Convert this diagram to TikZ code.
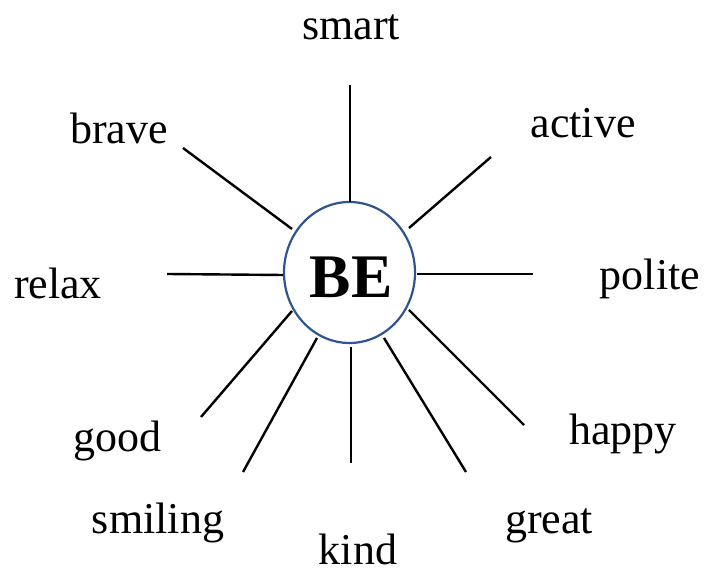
\documentclass[tikz,border=0pt]{standalone}
\usepackage{fontspec}
\setmainfont{Liberation Serif}
\usetikzlibrary{shapes.geometric}
\definecolor{ringblue}{HTML}{2F5590}
\tikzset{
  word/.style={anchor=base, inner sep=0pt, font=\fontsize{44}{48}\selectfont},
  spoke/.style={draw=black, line width=2.4pt},
  hub/.style={draw=ringblue, line width=2.2pt, ellipse, minimum width=131pt, minimum height=141pt, inner sep=0pt}
}
\begin{document}
\begin{tikzpicture}[x=1pt,y=1pt]
\useasboundingbox (0,0) rectangle (704,575);
\node[hub] (be) at (349.5,302.5) {};
\node[anchor=base, inner sep=0pt, font=\fontsize{62}{66}\selectfont\bfseries] (betext) at (351,277) {BE};
% spoke ends
\coordinate (smart-in) at (350,373);   \coordinate (smart-out) at (350,490);
\coordinate (brave-in) at (292,346);   \coordinate (brave-out) at (183,427);
\coordinate (active-in) at (409,347);  \coordinate (active-out) at (491,418);
\coordinate (relax-in) at (283,300);   \coordinate (relax-out) at (167,301);
\coordinate (polite-in) at (417,301);  \coordinate (polite-out) at (533,301);
\coordinate (good-in) at (292,264);    \coordinate (good-out) at (201,158);
\coordinate (smiling-in) at (317,237); \coordinate (smiling-out) at (243,103);
\coordinate (kind-in) at (351,228);    \coordinate (kind-out) at (351,112);
\coordinate (great-in) at (384,237);   \coordinate (great-out) at (466,103);
\coordinate (happy-in) at (409,265);   \coordinate (happy-out) at (524,150);
\foreach \w in {smart,brave,active,relax,polite,good,smiling,kind,great,happy}
  \draw[spoke] (\w-in) -- (\w-out);
% labels
\node[word] (smart) at (351,535) {smart};
\node[word] (brave) at (119,431) {brave};
\node[word] (active) at (583,437) {active};
\node[word] (relax) at (58,276) {relax};
\node[word] (polite) at (650,285) {polite};
\node[word] (good) at (117,123) {good};
\node[word] (happy) at (623,130) {happy};
\node[word] (smiling) at (158,41) {smiling};
\node[word] (kind) at (358,10) {kind};
\node[word] (great) at (549,41) {great};
\end{tikzpicture}
\end{document}
